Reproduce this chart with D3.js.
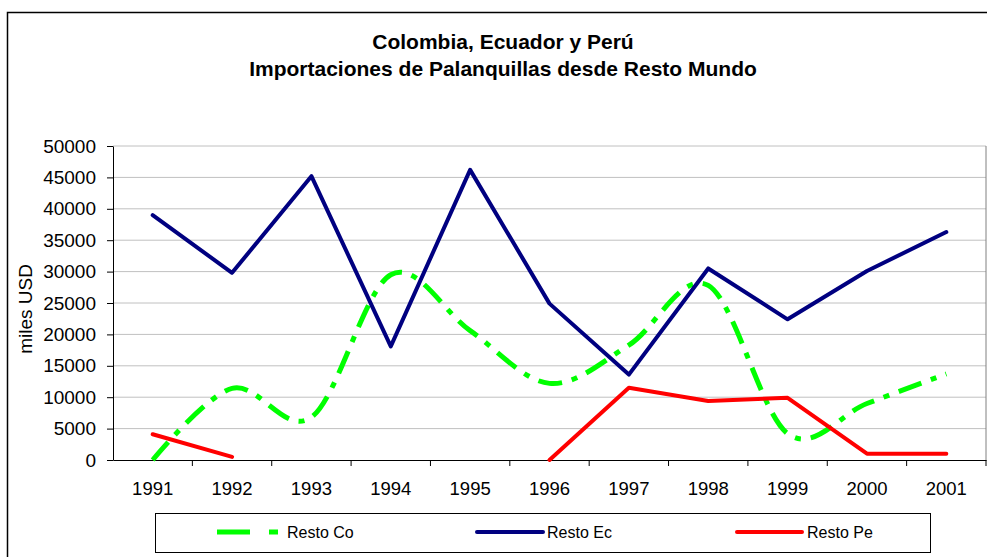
<!DOCTYPE html>
<html>
<head>
<meta charset="utf-8">
<script src="https://cdn.jsdelivr.net/npm/d3@7"></script>
<style>
  body { margin: 0; background: #fff; }
  svg { display: block; font-family: "Liberation Sans", Arial, sans-serif; }
</style>
</head>
<body>
<div id="chart"></div>
<script>
// data (miles USD)
var years = ["1991","1992","1993","1994","1995","1996","1997","1998","1999","2000","2001"];
var restoCo = [0, 11400, 6800, 29500, 20600, 12200, 18300, 27800, 4200, 9000, 13700];
var restoEc = [39000, 29800, 45200, 18100, 46200, 24900, 13600, 30500, 22400, 30100, 36300];
var restoPe = [4100, 500, null, null, null, 0, 11500, 9400, 9900, 1000, 1000];
var yTicks = [0, 5000, 10000, 15000, 20000, 25000, 30000, 35000, 40000, 45000, 50000];
var seriesNames = ["Resto Co", "Resto Ec", "Resto Pe"];

var W = 987, H = 557;
var plot = {left: 113, top: 146, right: 986, bottom: 460};

var svg = d3.select("#chart")
  .append("svg")
  .attr("width", W)
  .attr("height", H);

// outer chart frame (right / bottom edges fall outside the picture)
svg.append("rect")
  .attr("x", 7.5).attr("y", 12.5)
  .attr("width", W + 10).attr("height", H + 10)
  .attr("fill", "none")
  .attr("stroke", "#000")
  .attr("stroke-width", 1.5);

// title
svg.append("text")
  .attr("x", 503).attr("y", 49)
  .attr("text-anchor", "middle")
  .attr("font-weight", "bold")
  .attr("font-size", "21px")
  .text("Colombia, Ecuador y Perú");
svg.append("text")
  .attr("x", 503).attr("y", 76)
  .attr("text-anchor", "middle")
  .attr("font-weight", "bold")
  .attr("font-size", "21px")
  .text("Importaciones de Palanquillas desde Resto Mundo");

// scales
var x = d3.scaleBand()
  .domain(years)
  .range([plot.left, plot.right])
  .padding(0);

var y = d3.scaleLinear()
  .domain([0, 50000])
  .range([plot.bottom, plot.top]);

function cx(i) { return x(years[i]) + x.bandwidth() / 2; }

// gridlines
svg.append("g")
  .selectAll("line")
  .data(yTicks.slice(1))
  .join("line")
    .attr("x1", plot.left).attr("x2", plot.right)
    .attr("y1", d => y(d)).attr("y2", d => y(d))
    .attr("stroke", "#c0c0c0")
    .attr("stroke-width", 1);

// right border of plot area
svg.append("line")
  .attr("x1", plot.right).attr("x2", plot.right)
  .attr("y1", plot.top).attr("y2", plot.bottom)
  .attr("stroke", "#808080");

// y axis
var yAxis = svg.append("g")
  .attr("transform", "translate(" + plot.left + ",0)")
  .call(d3.axisLeft(y).tickValues(yTicks).tickFormat(d3.format("d"))
    .tickSize(6).tickPadding(11).tickSizeOuter(0));
yAxis.selectAll("text").attr("font-size", "19px").attr("fill", "#000").attr("font-family", null);
yAxis.selectAll("line, path").attr("stroke", "#000");

// x axis - labels centered in bands, ticks on band edges
var xAxis = svg.append("g")
  .attr("transform", "translate(0," + plot.bottom + ")")
  .call(d3.axisBottom(x).tickSize(0).tickPadding(22).tickSizeOuter(0));
xAxis.selectAll("text").attr("font-size", "18.5px").attr("fill", "#000").attr("font-family", null);
xAxis.select("path").attr("stroke", "#000");

svg.append("g")
  .selectAll("line")
  .data(years.slice(1).map(d => x(d)).concat([plot.right]))
  .join("line")
    .attr("x1", d => d).attr("x2", d => d)
    .attr("y1", plot.bottom).attr("y2", plot.bottom + 6)
    .attr("stroke", "#000");

// y title
svg.append("text")
  .attr("transform", "translate(32,309) rotate(-90)")
  .attr("text-anchor", "middle")
  .attr("font-size", "19px")
  .text("miles USD");

// lines
var straight = d3.line()
  .defined(d => d != null)
  .x((d, i) => cx(i))
  .y(d => y(d));

var smooth = d3.line()
  .x((d, i) => cx(i))
  .y(d => y(d))
  .curve(d3.curveCardinal.tension(0));

svg.append("path")
  .datum(restoCo)
  .attr("fill", "none")
  .attr("stroke", "#00ff00")
  .attr("stroke-width", 5)
  .attr("stroke-dasharray", "24,10,6,10")
  .attr("d", smooth);

svg.append("path")
  .datum(restoEc)
  .attr("fill", "none")
  .attr("stroke", "#000080")
  .attr("stroke-width", 4)
  .attr("stroke-linejoin", "round")
  .attr("stroke-linecap", "round")
  .attr("d", straight);

svg.append("path")
  .datum(restoPe)
  .attr("fill", "none")
  .attr("stroke", "#ff0000")
  .attr("stroke-width", 4)
  .attr("stroke-linejoin", "round")
  .attr("stroke-linecap", "round")
  .attr("d", straight);

// legend
svg.append("rect")
  .attr("x", 155.5).attr("y", 513.5)
  .attr("width", 775).attr("height", 39)
  .attr("fill", "#fff")
  .attr("stroke", "#000");

var legendItems = [
  {name: seriesNames[0], color: "#00ff00", x1: 217, x2: 279, dash: "33,19,9", w: 5, text: 287},
  {name: seriesNames[1], color: "#000080", x1: 477, x2: 543, dash: null, w: 4, text: 547},
  {name: seriesNames[2], color: "#ff0000", x1: 737, x2: 802, dash: null, w: 4, text: 807}
];

var leg = svg.append("g")
  .selectAll("g")
  .data(legendItems)
  .join("g");

leg.append("line")
  .attr("x1", d => d.x1).attr("x2", d => d.x2)
  .attr("y1", 532).attr("y2", 532)
  .attr("stroke", d => d.color)
  .attr("stroke-width", d => d.w)
  .attr("stroke-dasharray", d => d.dash)
  .attr("stroke-linecap", d => d.dash ? "butt" : "round");

leg.append("text")
  .attr("x", d => d.text).attr("y", 538)
  .attr("font-size", "16px")
  .text(d => d.name);
</script>
</body>
</html>
